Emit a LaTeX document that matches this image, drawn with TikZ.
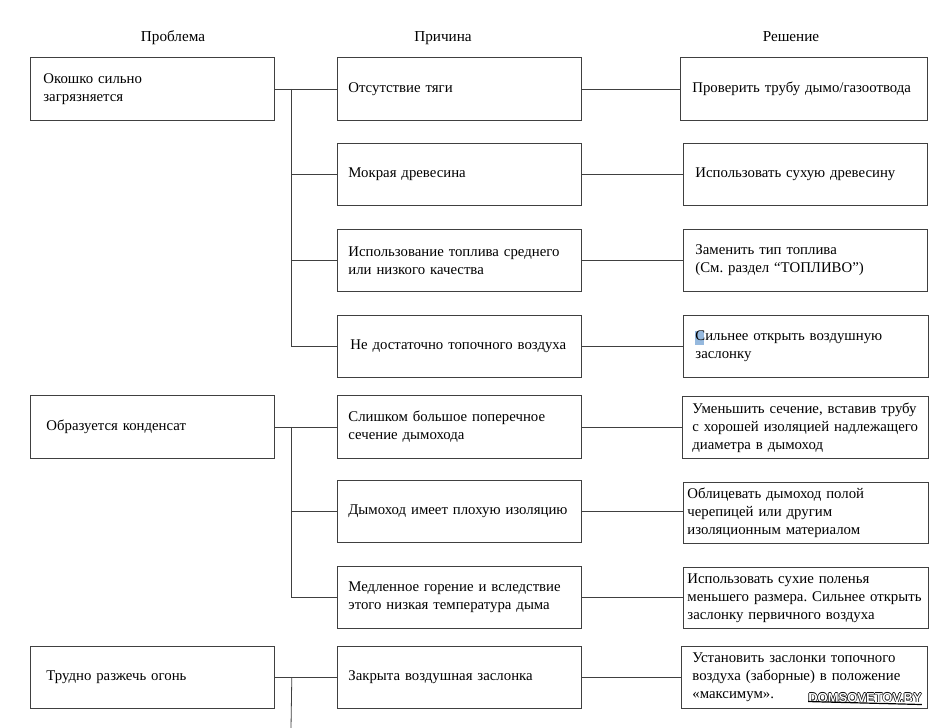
\documentclass[tikz,border=0pt]{standalone}
\usepackage{fontspec}
\setmainfont{Liberation Serif}
\newfontfamily\wmfont{Liberation Sans}
\usetikzlibrary{calc}
\frenchspacing
\definecolor{lineclr}{gray}{0.25}
\definecolor{selblue}{RGB}{150,185,222}
\newcommand\outlinedtext[1]{\leavevmode\rlap{\raisebox{0.7pt}{#1}}\rlap{\raisebox{-0.7pt}{#1}}\rlap{\hspace{0.7pt}#1}\rlap{\hspace{-0.7pt}#1}{\color{white}#1}}
\newcommand\bx[7]{%
  \pgfmathsetmacro\tw{#4-2*#6}%
  \node[box, inner xsep=#6pt, minimum width=#4pt, minimum height=#5pt, text width=\tw pt] (#1) at (#2,#3) {#7};}
\begin{document}
\begin{tikzpicture}[x=1pt,y=-1pt,
  box/.style={draw=lineclr, line width=0.8pt, rectangle, anchor=north west, align=left, inner ysep=0pt, font=\fontsize{14.8}{18}\selectfont},
  head/.style={font=\fontsize{15.2}{18}\selectfont, anchor=base},
  link/.style={draw=lineclr, line width=0.8pt}]
\useasboundingbox (0,0) rectangle (937,728);
\fill[white] (0,0) rectangle (937,728);

% headers
\node[head] (h1) at (173,41) {Проблема};
\node[head] (h2) at (443,41) {Причина};
\node[head] (h3) at (791,41) {Решение};

% problems
\bx{p1}{30}{57}{244}{63}{13}{Окошко сильно\\загрязняется}
\bx{p2}{30}{395}{244}{63}{16}{Образуется конденсат}
\bx{p3}{30}{646}{244}{62}{16}{Трудно разжечь огонь}

% causes
\bx{c1}{337}{57}{244}{63}{11}{Отсутствие тяги}
\bx{c2}{337}{143}{244}{62}{11}{Мокрая древесина}
\bx{c3}{337}{229}{244}{62}{11}{Использование топлива среднего\\или низкого качества}
\bx{c4}{337}{315}{244}{62}{13}{Не достаточно топочного воздуха}
\bx{c5}{337}{395}{244}{63}{11}{Слишком большое поперечное\\сечение дымохода}
\bx{c6}{337}{480}{244}{62}{11}{Дымоход имеет плохую изоляцию}
\bx{c7}{337}{566}{244}{62}{11}{Медленное горение и вследствие\\этого низкая температура дыма}
\bx{c8}{337}{646}{244}{62}{11}{Закрыта воздушная заслонка}

% selection highlight
\fill[selblue] (695,331) rectangle (704,345);

% solutions
\bx{s1}{680}{57}{247}{63}{12}{Проверить трубу дымо/газоотвода}
\bx{s2}{683}{143}{244}{62}{12}{Использовать сухую древесину}
\bx{s3}{683}{229}{244}{62}{12}{Заменить тип топлива\\(См. раздел “ТОПЛИВО”)}
\bx{s4}{683}{315}{245}{62}{12}{Сильнее открыть воздушную\\заслонку}
\bx{s5}{682}{396}{246}{62}{10}{Уменьшить сечение, вставив трубу\\с хорошей изоляцией надлежащего\\диаметра в дымоход}
\bx{s6}{683}{482}{245}{61}{4}{Облицевать дымоход полой\\черепицей или другим\\изоляционным материалом}
\bx{s7}{683}{567}{245}{61}{4}{Использовать сухие поленья\\меньшего размера. Сильнее открыть\\заслонку первичного воздуха}
\bx{s8}{681}{646}{246}{62}{11}{Установить заслонки топочного\\воздуха (заборные) в положение\\«максимум».}

% tree connectors
\path (p1.east) ++(17,0) coordinate (j1);
\path (p2.east) ++(17,0) coordinate (j2);
\path (p3.east) ++(17,0) coordinate (j3);
\coordinate (end3) at (291,728);

\draw[link] (p1.east) -- (c1.west);
\draw[link] (j1) |- (c4.west);
\draw[link] (j1 |- c2.west) -- (c2.west);
\draw[link] (j1 |- c3.west) -- (c3.west);

\draw[link] (p2.east) -- (c5.west);
\draw[link] (j2) |- (c7.west);
\draw[link] (j2 |- c6.west) -- (c6.west);

\draw[link] (p3.east) -- (c8.west);
\draw[link] (j3) -- (end3);

\foreach \i in {1,...,8}{\draw[link] (c\i.east) -- (s\i.west |- c\i.east);}

% watermark
\node[anchor=base, font=\wmfont\bfseries\fontsize{13}{15}\selectfont, inner sep=0pt] (wm) at (865,702) {\outlinedtext{DOMSOVETOV.BY}};
\draw[black, line width=1.2pt] (wm.south west) ++(0,-1.5) -- ($(wm.south east)+(0,1.5)$);
\end{tikzpicture}
\end{document}
